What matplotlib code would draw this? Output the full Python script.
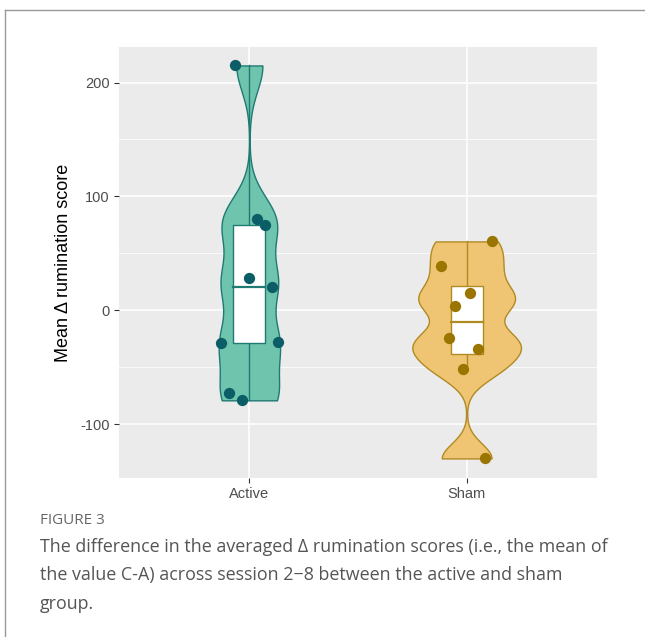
import numpy as np
import matplotlib.pyplot as plt
from matplotlib.lines import Line2D

# Mean delta rumination score per participant
groups = ['Active', 'Sham']
active_scores = [215, 80.5, 74.6, 28.3, 20.5, -28.7, -28.0, -73.0, -79.0]
sham_scores = [60.5, 38.6, 15.2, 3.5, -24.0, -34.0, -51.5, -130.0]

# horizontal jitter of the plotted points (category units)
active_jitter = [-0.065, 0.037, 0.072, 0.0, 0.105, -0.13, 0.132, -0.095, -0.034]
sham_jitter = [0.117, -0.118, 0.014, -0.052, -0.083, 0.051, -0.018, 0.086]

fills = ['#6fc4ad', '#efc573']
edges = ['#1f7a72', '#b08a22']
dots = ['#0b5e66', '#9a7500']

y_ticks = [-100, 0, 100, 200]
y_minor = [-50, 50, 150]


def nrd0(x):
    x = np.asarray(x, float)
    q75, q25 = np.percentile(x, [75, 25])
    lo = min(np.std(x, ddof=1), (q75 - q25) / 1.34)
    return 0.9 * lo * len(x) ** -0.2


def kde(x, adjust=0.5, n=512):
    x = np.asarray(x, float)
    bw = nrd0(x) * adjust
    grid = np.linspace(x.min(), x.max(), n)
    d = np.exp(-0.5 * ((grid[:, None] - x[None, :]) / bw) ** 2).sum(1)
    d /= len(x) * bw * np.sqrt(2 * np.pi)
    return grid, d


def box_stats(x):
    x = np.sort(np.asarray(x, float))
    q1, med, q3 = np.percentile(x, [25, 50, 75])
    iqr = q3 - q1
    lo = x[x >= q1 - 1.5 * iqr].min()
    hi = x[x <= q3 + 1.5 * iqr].max()
    return q1, med, q3, lo, hi


plt.rcParams['font.family'] = ['Liberation Sans', 'DejaVu Sans']
plt.rcParams['axes.unicode_minus'] = False

fig = plt.figure(figsize=(6.45, 6.37), dpi=100)
ax = fig.add_axes([0.1845, 0.2496, 0.9256 - 0.1845, 0.9262 - 0.2496])
ax.set_facecolor('#ebebeb')

data = [active_scores, sham_scores]
jits = [active_jitter, sham_jitter]
dens = [kde(d) for d in data]
dmax = max(d.max() for _, d in dens)
half = 0.25  # max half-width of the violins

for i, (vals, (g, d)) in enumerate(zip(data, dens)):
    pos = i + 1
    w = d / dmax * half
    ax.fill_betweenx(g, pos - w, pos + w, facecolor=fills[i], edgecolor=edges[i],
                     linewidth=1.0, zorder=2)
    q1, med, q3, lo, hi = box_stats(vals)
    bw = 0.074
    ax.plot([pos, pos], [q3, hi], color=edges[i], lw=1.0, zorder=3)
    ax.plot([pos, pos], [lo, q1], color=edges[i], lw=1.0, zorder=3)
    ax.fill_between([pos - bw, pos + bw], q1, q3, facecolor='white',
                    edgecolor=edges[i], linewidth=1.0, zorder=3)
    ax.plot([pos - bw, pos + bw], [med, med], color=edges[i], lw=1.6, zorder=4)
    ax.scatter(pos + np.array(jits[i]), vals, s=66, color=dots[i], zorder=5,
               linewidths=0)

ax.set_xlim(0.4, 2.6)
ax.set_ylim(-147.2, 231.2)
ax.set_xticks([1, 2])
ax.set_xticklabels(groups)
ax.set_yticks(y_ticks)
ax.set_yticks(y_minor, minor=True)
ax.grid(True, which='major', color='white', lw=1.1, zorder=0)
ax.grid(True, which='minor', axis='y', color='white', lw=0.55, zorder=0)
ax.set_axisbelow(True)
for s in ax.spines.values():
    s.set_visible(False)
ax.tick_params(axis='both', which='major', length=3.5, width=0.8, color='#333333',
               labelcolor='#4d4d4d', labelsize=10.5, pad=3)
ax.tick_params(axis='y', which='minor', length=0)
ax.set_ylabel('Mean Δ rumination score', fontsize=13, color='black', labelpad=6)

# caption frame and text
fig.add_artist(Line2D([5 / 645, 5 / 645], [0, 1 - 10 / 637], color='#999999', lw=1.0))
fig.add_artist(Line2D([5 / 645, 1], [1 - 10 / 637, 1 - 10 / 637], color='#999999', lw=1.0))
fig.text(40 / 645, 1 - 520 / 637, 'FIGURE 3', family='Open Sans', fontsize=11,
         color='#666666', va='center', ha='left')
caption = ('The difference in the averaged Δ rumination scores (i.e., the mean of\n'
           'the value C-A) across session 2\u22128 between the active and sham\n'
           'group.')
fig.text(40 / 645, 1 - 538 / 637, caption, family='Open Sans', fontsize=12.9,
         color='#555555', va='top', ha='left', linespacing=1.74)

fig.savefig('out.png', dpi=100)
